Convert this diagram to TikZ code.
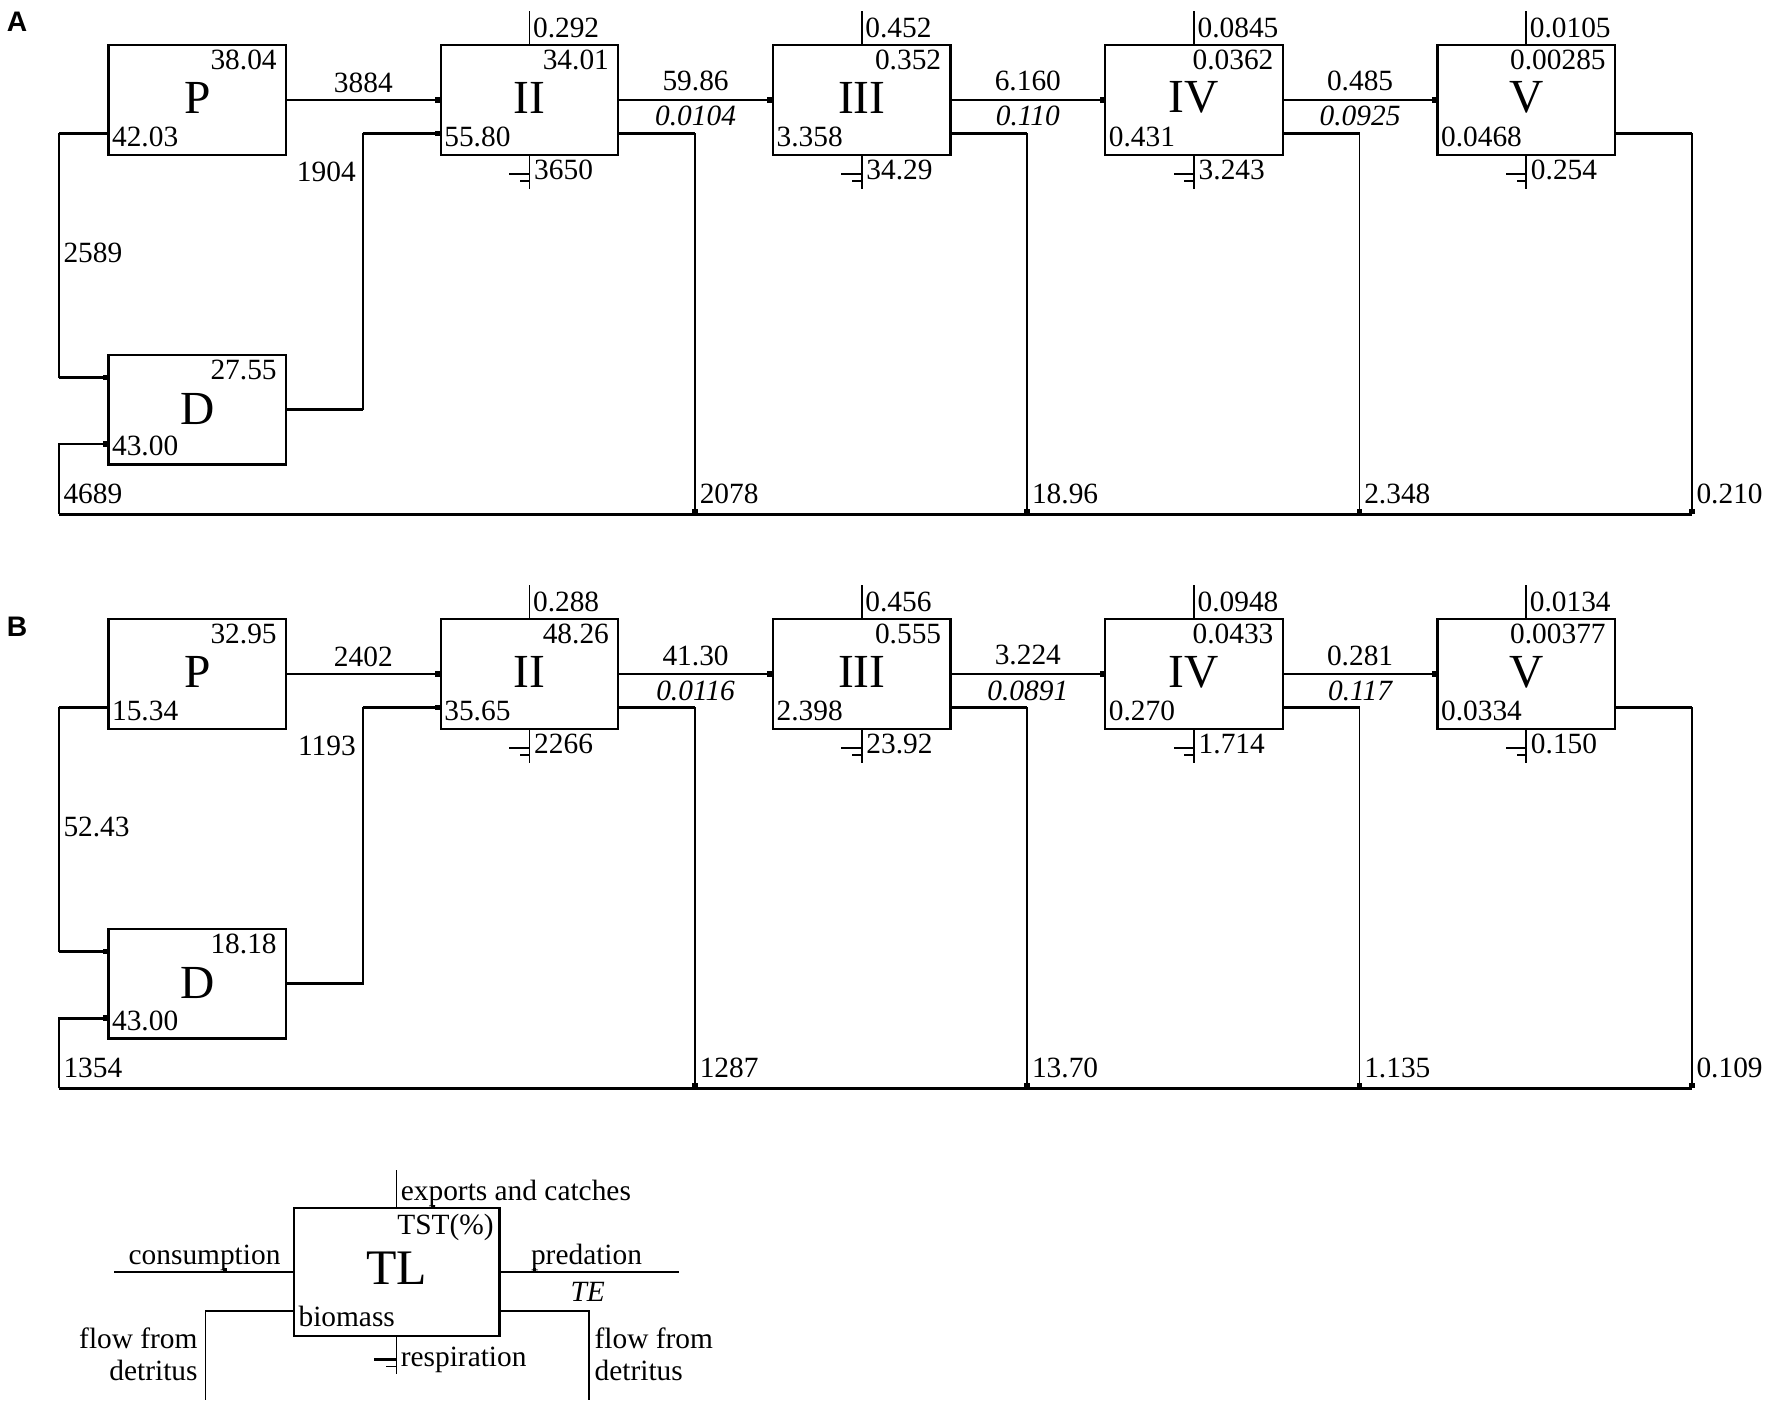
\documentclass[tikz,border=0pt]{standalone}
\usepackage{fontspec}
\setmainfont{Liberation Serif}
\newfontfamily\panelfont{Liberation Sans}
\usetikzlibrary{calc,arrows.meta}
\newcommand\numfont{\fontsize{26}{30}\selectfont}
\newcommand\bigfont{\fontsize{42}{46}\selectfont}
\tikzset{
  tlbox/.style={draw, line width=2pt, minimum width=157pt, minimum height=97pt, inner sep=0pt, outer sep=0pt},
  num/.style={font=\numfont, inner sep=0pt},
  itnum/.style={font=\numfont\itshape, inner sep=0pt},
  big/.style={font=\bigfont, inner sep=0pt},
  conn/.style={line width=1.4pt},
  hthick/.style={line width=2.4pt},
  flowarrow/.style={conn, -{Square[length=5pt,width=5pt]}},
  panellbl/.style={font=\panelfont\bfseries\fontsize{25}{28}\selectfont, inner sep=0pt}
}
\newcommand\mytr[2]{\node[num,anchor=east] at ($(#1.north east)+(-8,13)$) {#2};}
\newcommand\mybl[2]{\node[num,anchor=west] at ($(#1.south west)+(3,-16)$) {#2};}
\newcommand\myex[2]{\draw[conn] (#1.north) -- ++(0,-30);
  \node[num,anchor=west] at ($(#1.north)+(3,-15)$) {#2};}
\newcommand\myresp[2]{\draw[conn] (#1.south) -- ++(0,30);
  \draw[hthick] ($(#1.south)+(0,17)$) -- ++(-18,0);
  \draw[conn] ($(#1.south)+(0,23)$) -- ++(-8.5,0);
  \node[num,anchor=west] at ($(#1.south)+(4,13)$) {#2};}
\newcommand\myflow[4]{\draw[flowarrow] (#1.east) -- (#2.west);
  \node[num] at ($(#1.east)!0.5!(#2.west)+(0,-16.5)$) {#3};
  \node[itnum] at ($(#1.east)!0.5!(#2.west)+(0,14.5)$) {#4};}
\newcommand\mydet[3]{%
  \draw[flowarrow] ($(#1.south east)+(0,-19)$) coordinate (#1out) -- ++(68,0) coordinate (#1top) -- (#1top |- #2bl) coordinate (#1bot);
  \draw[hthick] (#1out) -- (#1top);
  \node[num,anchor=west] at ($(#1bot)+(4,-18)$) {#3};}
% #1 prefix, #2 y offset
\newcommand\mypanel[2]{%
\begin{scope}[shift={(0,#2)}]
\node[tlbox] (#1P) at (174.5,88.5) {};
\node[tlbox] (#1II) at (468.5,88.5) {};
\node[tlbox] (#1III) at (762.5,88.5) {};
\node[tlbox] (#1IV) at (1056.5,88.5) {};
\node[tlbox] (#1V) at (1350.5,88.5) {};
\node[tlbox] (#1D) at (174.5,362.5) {};
\coordinate (#1bl) at (52,455);
\coordinate (#1br) at (1497,455);
\node[big] at ($(#1P)+(0,-2)$) {P};
\node[big] at ($(#1II)+(0,-2)$) {II};
\node[big] at ($(#1III)+(0,-2)$) {III};
\node[big] at ($(#1IV)+(0,-2)$) {IV};
\node[big] at ($(#1V)+(0,-2)$) {V};
\node[big] at ($(#1D)+(0,-1)$) {D};
\mytr{#1P}{\vPt}\mybl{#1P}{\vPb}
\mytr{#1II}{\vIIt}\mybl{#1II}{\vIIb}\myex{#1II}{\vIIe}\myresp{#1II}{\vIIr}
\mytr{#1III}{\vIIIt}\mybl{#1III}{\vIIIb}\myex{#1III}{\vIIIe}\myresp{#1III}{\vIIIr}
\mytr{#1IV}{\vIVt}\mybl{#1IV}{\vIVb}\myex{#1IV}{\vIVe}\myresp{#1IV}{\vIVr}
\mytr{#1V}{\vVt}\mybl{#1V}{\vVb}\myex{#1V}{\vVe}\myresp{#1V}{\vVr}
\mytr{#1D}{\vDt}\mybl{#1D}{\vDb}
\draw[flowarrow] (#1P.east) -- (#1II.west);
\node[num] at ($(#1P.east)!0.5!(#1II.west)+(0,-15)$) {\vPII};
\myflow{#1II}{#1III}{\vIIa}{\vIIi}
\myflow{#1III}{#1IV}{\vIIIa}{\vIIIi}
\myflow{#1IV}{#1V}{\vIVa}{\vIVi}
\mydet{#1II}{#1}{\vdII}
\mydet{#1III}{#1}{\vdIII}
\mydet{#1IV}{#1}{\vdIV}
\mydet{#1V}{#1}{\vdV}
\draw[hthick] (#1bl) -- (#1br);
\draw[flowarrow] ($(#1P.south west)+(0,-19)$) coordinate (#1pout) -- ++(-44,0) coordinate (#1pl) |- ($(#1D.north west)+(0,20)$) coordinate (#1din);
\draw[hthick] (#1pout) -- (#1pl);
\draw[hthick] ($(#1din)+(-44,0)$) -- ($(#1din)+(-5,0)$);
\node[num,anchor=west] at (56,224) {\vPD};
\draw[flowarrow] (#1bl) |- ($(#1D.south west)+(0,-18)$) coordinate (#1din2);
\draw[hthick] ($(#1din2)+(-44,0)$) -- ($(#1din2)+(-5,0)$);
\node[num,anchor=west] at (56,437) {\vdD};
\draw[flowarrow] (#1D.east) -- ++(68,0) coordinate (#1dr) |- ($(#1II.south west)+(0,-19)$) coordinate (#1iin);
\draw[hthick] (#1D.east) -- (#1dr);
\draw[hthick] ($(#1iin)+(-69,0)$) -- ($(#1iin)+(-5,0)$);
\node[num,anchor=east] at (315,152) {\vDII};
\end{scope}}
\begin{document}
\begin{tikzpicture}[x=1pt,y=-1pt]
\useasboundingbox (0,0) rectangle (1568,1249);
\fill[white] (0,0) rectangle (1568,1249);
% ---------- Panel A ----------
\node[panellbl] (labA) at (15,19) {A};
\def\vPt{38.04}\def\vPb{42.03}\def\vPII{3884}
\def\vIIe{0.292}\def\vIIt{34.01}\def\vIIb{55.80}\def\vIIr{3650}
\def\vIIa{59.86}\def\vIIi{0.0104}
\def\vIIIe{0.452}\def\vIIIt{0.352}\def\vIIIb{3.358}\def\vIIIr{34.29}
\def\vIIIa{6.160}\def\vIIIi{0.110}
\def\vIVe{0.0845}\def\vIVt{0.0362}\def\vIVb{0.431}\def\vIVr{3.243}
\def\vIVa{0.485}\def\vIVi{0.0925}
\def\vVe{0.0105}\def\vVt{0.00285}\def\vVb{0.0468}\def\vVr{0.254}
\def\vDt{27.55}\def\vDb{43.00}\def\vDII{1904}\def\vPD{2589}
\def\vdD{4689}\def\vdII{2078}\def\vdIII{18.96}\def\vdIV{2.348}\def\vdV{0.210}
\mypanel{a}{0}
% ---------- Panel B ----------
\node[panellbl] (labB) at (15,555) {B};
\def\vPt{32.95}\def\vPb{15.34}\def\vPII{2402}
\def\vIIe{0.288}\def\vIIt{48.26}\def\vIIb{35.65}\def\vIIr{2266}
\def\vIIa{41.30}\def\vIIi{0.0116}
\def\vIIIe{0.456}\def\vIIIt{0.555}\def\vIIIb{2.398}\def\vIIIr{23.92}
\def\vIIIa{3.224}\def\vIIIi{0.0891}
\def\vIVe{0.0948}\def\vIVt{0.0433}\def\vIVb{0.270}\def\vIVr{1.714}
\def\vIVa{0.281}\def\vIVi{0.117}
\def\vVe{0.0134}\def\vVt{0.00377}\def\vVb{0.0334}\def\vVr{0.150}
\def\vDt{18.18}\def\vDb{43.00}\def\vDII{1193}\def\vPD{52.43}
\def\vdD{1354}\def\vdII{1287}\def\vdIII{13.70}\def\vdIV{1.135}\def\vdV{0.109}
\mypanel{b}{508}
% ---------- Legend ----------
\node[draw, line width=2pt, minimum width=182pt, minimum height=113pt, inner sep=0pt, outer sep=0pt] (TL) at (351,1125.5) {};
\node[font=\fontsize{44}{48}\selectfont, inner sep=0pt] (TLt) at ($(TL)+(0,-3)$) {TL};
\draw[conn] (TL.north) -- ++(0,-34) coordinate (exTop);
\node[num,anchor=base west] (exL) at (354.5,1062) {exports and catches};
\node[num,anchor=base east] (tstL) at (437,1092) {TST(\%)};
\draw[conn] (TL.west) -- ++(-159,0) coordinate (consL);
\node[num,anchor=base] (consT) at (181,1119) {consumption};
\draw[conn] (TL.east) -- ++(159,0) coordinate (predR);
\node[num,anchor=base] (predT) at (519,1119) {predation};
\node[itnum,anchor=base] (teT) at (520,1152) {TE};
\fill (197.5,1122) rectangle (200.5,1126);
\fill (471.5,1122) rectangle (474.5,1126);
\fill (381.5,1066) rectangle (384.5,1069);
\node[num,anchor=base west] (bioT) at (264,1174) {biomass};
\draw[conn] ($(TL.south west)+(0,-22)$) coordinate (lfStart) -- ++(-78,0) coordinate (lfCorner) -- ++(0,79) coordinate (lfEnd);
\draw[hthick] (lfStart) -- (lfCorner);
\draw[conn] ($(TL.south east)+(0,-22)$) coordinate (rfStart) -- ++(79,0) coordinate (rfCorner) -- ++(0,79) coordinate (rfEnd);
\draw[hthick] (rfStart) -- (rfCorner);
\node[num,anchor=base east] (lf1) at (175,1193) {flow from};
\node[num,anchor=base east] (lf2) at (175,1222) {detritus};
\node[num,anchor=base west] (rf1) at (526,1193) {flow from};
\node[num,anchor=base west] (rf2) at (526,1222) {detritus};
\draw[conn] (TL.south) -- ++(0,34) coordinate (respEnd);
\draw[hthick] ($(TL.south)+(0,21)$) -- ++(-20,0);
\draw[conn] ($(TL.south)+(0,27)$) -- ++(-9.5,0);
\node[num,anchor=base west] (respT) at (354.5,1209) {respiration};
\end{tikzpicture}
\end{document}
